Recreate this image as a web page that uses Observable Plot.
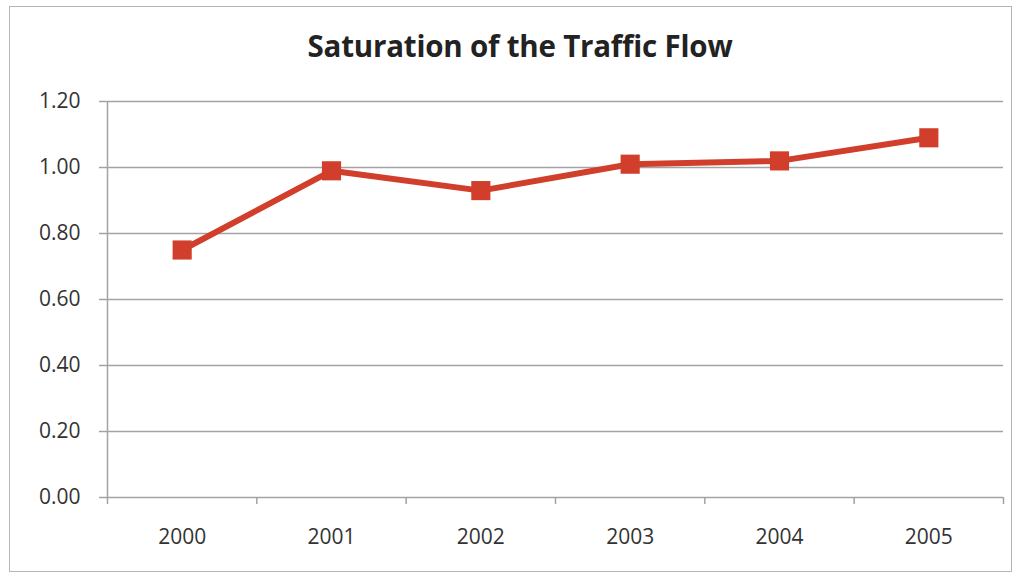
<!DOCTYPE html>
<html>
<head>
<meta charset="utf-8">
<script src="https://cdn.jsdelivr.net/npm/d3@7"></script>
<script src="https://cdn.jsdelivr.net/npm/@observablehq/plot@0.6"></script>
<style>
  html, body { margin: 0; padding: 0; background: #fff; }
  #wrap { position: relative; width: 1021px; height: 576px; overflow: hidden; background: #fff; }
  #frame { position: absolute; left: 9px; top: 6px; width: 1003px; height: 566px; border: 1.5px solid #b5b5b5; box-sizing: border-box; }
  #title { position: absolute; left: 0; width: 1040px; top: 25px; text-align: center; font-family: "Open Sans", sans-serif; font-weight: 700; font-size: 29.5px; color: #222; letter-spacing: -0.2px; }
  #chart { position: absolute; left: 0; top: 0; }
</style>
</head>
<body>
<div id="wrap">
  <div id="frame"></div>
  <div id="title">Saturation of the Traffic Flow</div>
  <div id="chart"></div>
</div>
<script>
const years = [2000, 2001, 2002, 2003, 2004, 2005];
const saturation = [0.75, 0.99, 0.93, 1.01, 1.02, 1.09];
const yTicks = [0, 0.2, 0.4, 0.6, 0.8, 1.0, 1.2];

const data = years.map((y, i) => ({ year: y, value: saturation[i] }));
const boundaries = years.map(y => y - 0.5).concat([years[years.length - 1] + 0.5]);

const red = "#d13f2c";
const grid = "#a3a3a3";

const plot = Plot.plot({
  width: 1021,
  height: 576,
  marginLeft: 107,
  marginRight: 18,
  marginTop: 101,
  marginBottom: 79,
  style: { fontFamily: "Open Sans, sans-serif", fontSize: "21px", color: "#333", background: "transparent" },
  x: { type: "linear", domain: [years[0] - 0.5, years[years.length - 1] + 0.5], axis: null },
  y: { type: "linear", domain: [0, 1.2], axis: null },
  marks: [
    Plot.ruleY(yTicks, { stroke: grid, strokeWidth: 1.5 }),
    Plot.ruleX([boundaries[0]], { y1: 0, y2: 1.2, stroke: grid, strokeWidth: 1.5 }),
    Plot.axisY({ ticks: yTicks, tickFormat: d => d.toFixed(2), tickSize: 8, tickPadding: 19, stroke: grid, fill: "#333", strokeWidth: 1.5, strokeOpacity: 1, fontSize: 21, label: null }),
    Plot.axisX({ ticks: boundaries, tickFormat: () => "", tickSize: 7, stroke: grid, strokeWidth: 1.5, strokeOpacity: 1, label: null }),
    Plot.axisX({ ticks: years, tickFormat: d => String(d), tickSize: 0, tickPadding: 32, fill: "#333", fontSize: 21, label: null }),
    Plot.line(data, { x: "year", y: "value", stroke: red, strokeWidth: 6, strokeLinejoin: "round" }),
    Plot.dot(data, { x: "year", y: "value", symbol: "square", r: 10.8, fill: red, stroke: "none" })
  ]
});
document.getElementById("chart").appendChild(plot);
</script>
</body>
</html>
